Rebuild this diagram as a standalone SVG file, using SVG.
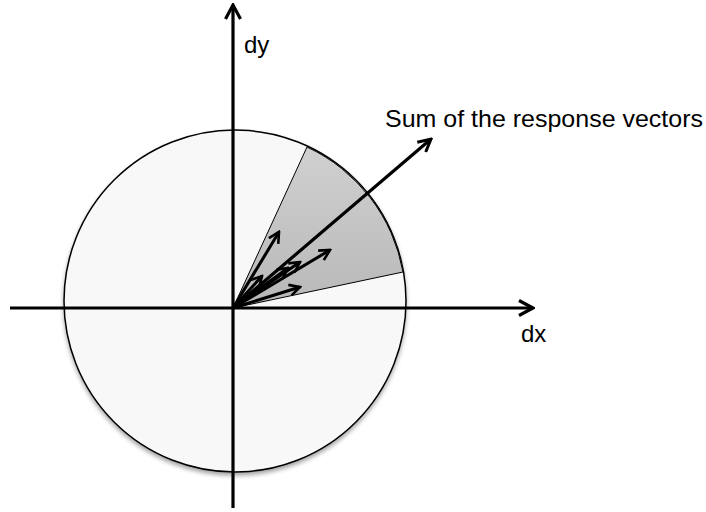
<svg xmlns="http://www.w3.org/2000/svg" width="706" height="512" viewBox="0 0 706 512">
<defs>
<filter id="sh" x="-10%" y="-10%" width="120%" height="125%">
<feDropShadow dx="0" dy="3" stdDeviation="2" flood-color="#000" flood-opacity="0.35"/>
</filter>
<linearGradient id="wg" x1="0" y1="0" x2="0" y2="1">
<stop offset="0" stop-color="#d0d0d0"/>
<stop offset="1" stop-color="#b8b8b8"/>
</linearGradient>
<marker id="ah" viewBox="0 0 14 14" refX="12" refY="7" markerWidth="14" markerHeight="14" markerUnits="userSpaceOnUse" orient="auto">
<path d="M1.5,1.5 L12,7 L1.5,12.5" fill="none" stroke="#000" stroke-width="2.6"/>
</marker>
<marker id="ahBig" viewBox="0 0 18 18" refX="16" refY="9" markerWidth="18" markerHeight="18" markerUnits="userSpaceOnUse" orient="auto">
<path d="M2,1.5 L16,9 L2,16.5" fill="none" stroke="#000" stroke-width="3.2"/>
</marker>
<marker id="ahSum" viewBox="0 0 16 16" refX="14" refY="8" markerWidth="16" markerHeight="16" markerUnits="userSpaceOnUse" orient="auto">
<path d="M1.5,1.5 L14,8 L1.5,14.5" fill="none" stroke="#000" stroke-width="3"/>
</marker>
</defs>
<style>
.lbl{font-family:"Liberation Sans",Arial,sans-serif;font-size:24px;fill:#000}
.axis{stroke:#000;stroke-width:3.2;fill:none}
.vec{stroke:#000;stroke-width:3;fill:none;marker-end:url(#ah)}
</style>
<g id="circle">
<circle cx="235" cy="301" r="171" fill="#f8f8f8" stroke="#000" stroke-width="1.5" filter="url(#sh)"/>
</g>
<g id="wedge">
<path d="M233,308 L307,147 A171,171 0 0,1 403,272 Z" fill="url(#wg)" stroke="#000" stroke-width="1"/>
</g>
<g id="connectors">
<line class="axis" x1="10" y1="308" x2="533" y2="308" marker-end="url(#ahBig)"/>
<line class="axis" x1="233" y1="508" x2="233" y2="5" marker-end="url(#ahBig)"/>
<line class="vec" x1="233" y1="308" x2="279" y2="232"/>
<line class="vec" x1="233" y1="308" x2="330" y2="250"/>
<line class="vec" x1="233" y1="308" x2="300" y2="262"/>
<line class="vec" x1="233" y1="308" x2="288" y2="268"/>
<line class="vec" x1="233" y1="308" x2="262" y2="276"/>
<line class="vec" x1="233" y1="308" x2="300" y2="287"/>
<line x1="233" y1="308" x2="431" y2="139" stroke="#000" stroke-width="3.2" marker-end="url(#ahSum)"/>
</g>
<g id="labels">
<text class="lbl" x="244" y="53">dy</text>
<text class="lbl" x="521" y="342">dx</text>
<text class="lbl" x="385" y="127" textLength="318" lengthAdjust="spacingAndGlyphs">Sum of the response vectors</text>
</g>
</svg>
